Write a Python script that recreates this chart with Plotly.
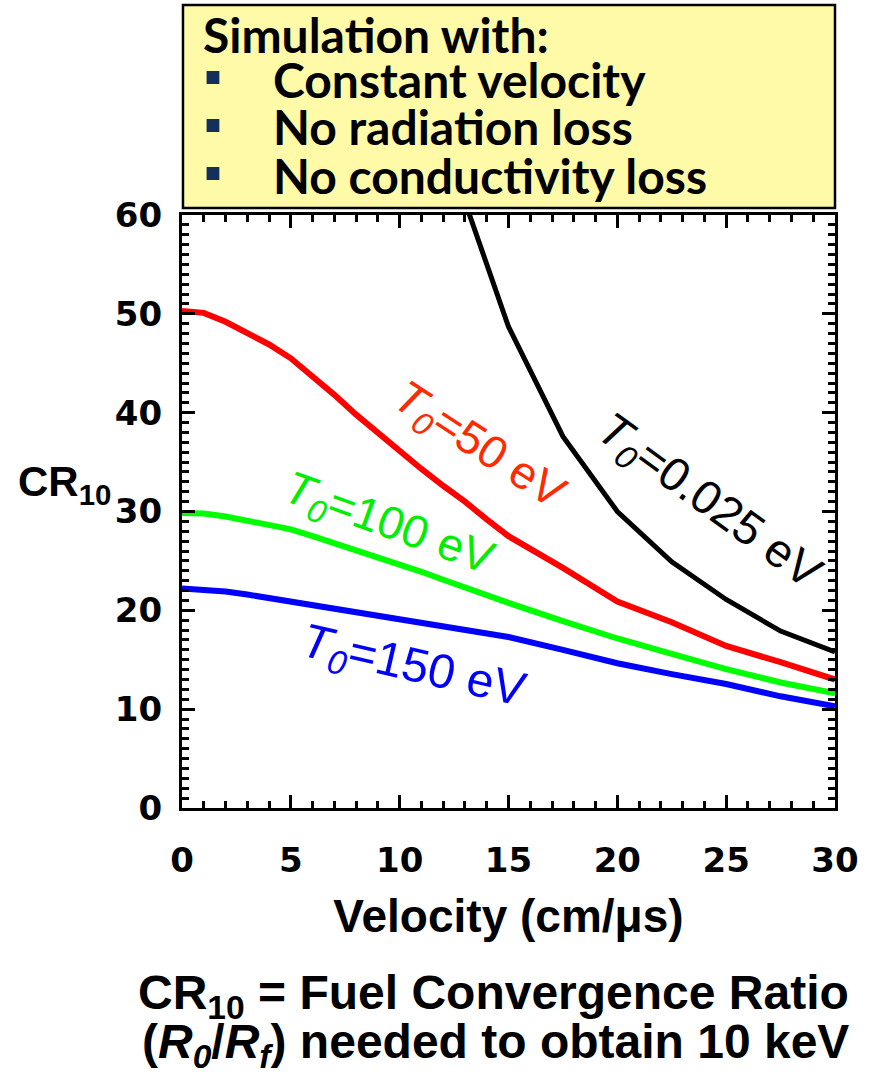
import plotly.graph_objects as go

# CR10 versus implosion velocity (cm/us) for each initial temperature
vel_50ev = [0, 1, 2, 3, 4, 5, 6, 7, 8, 9, 10, 11, 12, 13, 14, 15, 17.5, 20, 22.5, 25, 27.5, 30]
cr_50ev = [50.3, 50.1, 49.2, 48.1, 46.9, 45.5, 43.7, 41.8, 39.8, 37.9, 36.1, 34.3, 32.6,
           31.0, 29.2, 27.5, 24.3, 20.9, 18.8, 16.4, 14.75, 13.0]

vel_100ev = [0, 1, 2, 3, 4, 5, 6, 7, 8, 9, 10, 11, 12, 13, 14, 15, 17.5, 20, 22.5, 25, 27.5, 30]
cr_100ev = [29.85, 29.8, 29.5, 29.1, 28.7, 28.2, 27.5, 26.8, 26.0, 25.3, 24.6, 23.9, 23.1,
            22.3, 21.5, 20.75, 18.9, 17.15, 15.6, 14.05, 12.7, 11.6]

vel_150ev = [0, 1, 2, 3, 4, 5, 6, 7, 8, 9, 10, 11, 12, 13, 14, 15, 17.5, 20, 22.5, 25, 27.5, 30]
cr_150ev = [22.2, 22.1, 21.9, 21.6, 21.25, 20.9, 20.6, 20.25, 19.9, 19.55, 19.2, 18.8, 18.4,
            18.0, 17.65, 17.3, 16.0, 14.65, 13.55, 12.55, 11.3, 10.3]

vel_0025ev = [12.5, 15, 17.5, 20, 22.5, 25, 27.5, 30]
cr_0025ev = [64.5, 48.7, 37.6, 30.0, 24.9, 21.1, 17.9, 15.8]

x_ticks = [0, 5, 10, 15, 20, 25, 30]
y_ticks = [0, 10, 20, 30, 40, 50, 60]

assumptions = ["Constant velocity", "No radiation loss", "No conductivity loss"]

# plot-area geometry in pixels
W, H = 871, 1081
L, R, T, B = 182, 846, 215, 808


def px(xp):
    return (xp - L) / (R - L)


def py(yp):
    return (B - yp) / (B - T)


fig = go.Figure()

fig.add_trace(go.Scatter(x=vel_50ev, y=cr_50ev, mode="lines",
                         line=dict(color="#ff0000", width=6)))
fig.add_trace(go.Scatter(x=vel_100ev, y=cr_100ev, mode="lines",
                         line=dict(color="#00ff00", width=6)))
fig.add_trace(go.Scatter(x=vel_150ev, y=cr_150ev, mode="lines",
                         line=dict(color="#0000ff", width=6)))
fig.add_trace(go.Scatter(x=vel_0025ev, y=cr_0025ev, mode="lines",
                         line=dict(color="#000000", width=5)))

tick_font = dict(family="DejaVu Sans", size=34, color="black")
axis_common = dict(
    showgrid=False, zeroline=False, showline=True, linecolor="black",
    linewidth=3, mirror="allticks", ticks="inside", ticklen=13,
    tickwidth=2.5, tickcolor="black", tickfont=tick_font,
)

fig.update_xaxes(range=[0, 30], tickvals=x_ticks,
                 ticktext=[f"<b>{v}</b>" for v in x_ticks],
                 minor=dict(dtick=1, ticks="inside", ticklen=7,
                            tickwidth=2.5, tickcolor="black"),
                 ticklabelstandoff=20,
                 title=dict(text="<b>Velocity (cm/μs)</b>",
                            font=dict(family="Liberation Sans", size=46,
                                      color="black"),
                            standoff=22),
                 **axis_common)
fig.update_yaxes(range=[0, 60], tickvals=y_ticks,
                 ticktext=[f"<b>{v}</b>" for v in y_ticks],
                 minor=dict(dtick=1, ticks="inside", ticklen=7,
                            tickwidth=2.5, tickcolor="black"),
                 ticklabelstandoff=10,
                 **axis_common)

label_font = "Liberation Sans"
curve_labels = [
    (13.6, 36.6, "<i>T<sub>0</sub></i>=50 eV", "#ff2a00", 33, 46),
    (24.2, 30.9, "<i>T<sub>0</sub></i>=0.025 eV", "#000000", 36, 47),
    (9.5, 28.6, "<i>T<sub>0</sub></i>=100 eV", "#00ee00", 20, 46),
    (10.6, 14.2, "<i>T<sub>0</sub></i>=150 eV", "#0000ff", 13, 48),
]
for x, y, txt, col, ang, size in curve_labels:
    fig.add_annotation(x=x, y=y, xref="x", yref="y", text=txt,
                       showarrow=False, textangle=ang,
                       font=dict(family=label_font, size=size, color=col))

# y-axis label, horizontal
fig.add_annotation(x=px(13), y=py(484), xref="paper", yref="paper",
                   xanchor="left", yanchor="middle", showarrow=False,
                   text="<b>CR<sub>10</sub></b>",
                   font=dict(family="Liberation Sans", size=42, color="black"))

# assumption box above the plot
fig.add_shape(type="rect", xref="paper", yref="paper",
              x0=px(183), x1=px(846), y0=py(208), y1=py(5),
              fillcolor="#fefaa8", line=dict(color="black", width=2.5),
              layer="above")
box_font = dict(family="Lato", size=48, color="black")
fig.add_annotation(x=px(201), y=py(34), xref="paper", yref="paper",
                   xanchor="left", yanchor="middle", showarrow=False,
                   text="<b>Simulation with:</b>", font=box_font)
for i, item in enumerate(assumptions):
    yc = 79 + 48 * i
    fig.add_shape(type="rect", xref="paper", yref="paper",
                  x0=px(207), x1=px(220), y0=py(yc + 5), y1=py(yc - 8),
                  fillcolor="#14305a", line=dict(width=0), layer="above")
    fig.add_annotation(x=px(273), y=py(yc), xref="paper", yref="paper",
                       xanchor="left", yanchor="middle", showarrow=False,
                       text=f"<b>{item}</b>", font=box_font)

# definition note below the chart
note_font = dict(family="Liberation Sans", size=48, color="black")
fig.add_annotation(x=px(862), y=py(996), xref="paper", yref="paper",
                   xanchor="right", yanchor="middle", showarrow=False,
                   text="<b>CR<sub>10</sub> = Fuel Convergence Ratio</b>",
                   font=note_font)
fig.add_annotation(x=px(862), y=py(1045), xref="paper", yref="paper",
                   xanchor="right", yanchor="middle", showarrow=False,
                   text="<b>(<i>R<sub>0</sub></i>/<i>R<sub>f</sub></i>) needed to obtain 10 keV</b>",
                   font=note_font)

fig.update_layout(
    width=W, height=H, autosize=False,
    margin=dict(l=L, r=W - R, t=T, b=H - B, pad=0),
    paper_bgcolor="white", plot_bgcolor="white",
    showlegend=False,
)

fig.write_html("out.html")
